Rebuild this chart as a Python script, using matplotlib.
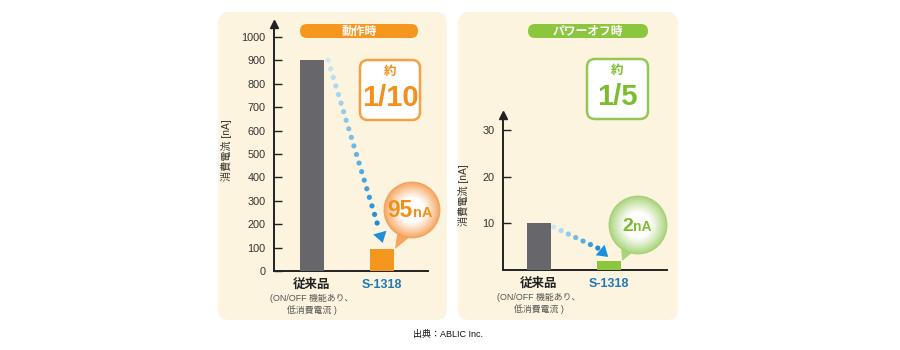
import matplotlib
matplotlib.use('Agg')
import matplotlib.pyplot as plt
from matplotlib.patches import FancyBboxPatch, Circle, Polygon, FancyArrowPatch
import numpy as np

plt.rcParams['font.family'] = ['Liberation Sans', 'Noto Sans CJK JP']

# ---------------- data ----------------
categories = ['従来品', 'S-1318']
sub_label = ['(ON/OFF 機能あり、', '低消費電流 )']
op_values = [900, 95]
off_values = [10, 2]
op_ticks = list(range(0, 1001, 100))
off_ticks = [10, 20, 30]
panel_titles = ['動作時', 'パワーオフ時']
ratio_labels = ['1/10', '1/5']
bubble_nums = ['95', '2']
bubble_unit = 'nA'
approx = '約'
ylabel = '消費電流 [nA]'
source = '出典：ABLIC Inc.'

# ---------------- style ----------------
W, H = 900, 350
CREAM = '#fcf4de'
ORANGE = '#f5961f'
GREEN = '#8cc63e'
GRAY_BAR = '#67666b'
BLUE = '#1f78b8'
AXC = '#222222'

fig = plt.figure(figsize=(9, 3.5), dpi=100)
fig.patch.set_facecolor('white')


def frac(x0, y_top, x1, y_bot):
    return [x0 / W, 1 - y_bot / H, (x1 - x0) / W, (y_bot - y_top) / H]


bg = fig.add_axes([0, 0, 1, 1])
bg.set_xlim(0, W); bg.set_ylim(H, 0); bg.axis('off'); bg.set_zorder(0)
for (x0, y0, w, h) in [(218, 12, 229, 308), (458, 12, 220, 308)]:
    bg.add_patch(FancyBboxPatch((x0, y0), w, h, boxstyle='round,pad=0,rounding_size=11',
                                fc=CREAM, ec='none'))
bg.text(448, 334, source, ha='center', va='center', fontsize=6.5, color='#111')


def setup_axes(rect, values, colors, ylim, xlim, ticks, ylab_xy):
    ax = fig.add_axes(rect)
    ax.set_zorder(2)
    ax.patch.set_alpha(0)
    x = np.arange(len(values))
    ax.bar(x, values, width=0.34, color=colors, zorder=3)
    ax.set_xlim(*xlim)
    ax.set_ylim(*ylim)
    for s in ['top', 'right']:
        ax.spines[s].set_visible(False)
    for s in ['left', 'bottom']:
        ax.spines[s].set_color(AXC)
        ax.spines[s].set_linewidth(1.4)
    ax.set_yticks(ticks)
    ax.tick_params(axis='y', direction='in', length=6, width=1, color=AXC,
                   labelsize=7.8, labelcolor='#333', pad=6)
    ax.set_xticks([])
    ax.plot([0], [1], marker='^', transform=ax.transAxes, clip_on=False,
            color=AXC, ms=6, zorder=5)
    ax.set_ylabel(ylabel, fontsize=7.3, color='#333')
    ax.yaxis.set_label_coords(*ylab_xy)
    # category labels
    for i, lab in enumerate(categories):
        ax.annotate(lab, xy=(i, 0), xytext=(0, -14), textcoords='offset pixels',
                    ha='center', va='center', fontsize=9, fontweight='bold',
                    color=AXC if i == 0 else BLUE, annotation_clip=False)
    ax.annotate(sub_label[0], xy=(0, 0), xytext=(0, -27), textcoords='offset pixels',
                ha='center', va='center', fontsize=6.4, color='#555', annotation_clip=False)
    ax.annotate(sub_label[1], xy=(0, 0), xytext=(0, -39), textcoords='offset pixels',
                ha='center', va='center', fontsize=6.4, color='#555', annotation_clip=False)
    return ax


ax1 = setup_axes(frac(274, 24, 428, 271), op_values, [GRAY_BAR, ORANGE],
                 (0, 1055), (-0.543, 1.657), op_ticks, (-0.27, 0.49))
ax2 = setup_axes(frac(503, 115, 667, 270), off_values, [GRAY_BAR, GREEN],
                 (0, 33.2), (-0.514, 1.829), off_ticks, (-0.21, 0.48))


def dotted_arrow(ax, start, end, tip, n):
    xs = np.linspace(start[0], end[0], n)
    ys = np.linspace(start[1], end[1], n)
    c0 = np.array([0.80, 0.91, 0.97])
    c1 = np.array([0.10, 0.56, 0.86])
    cols = [tuple(c0 + (c1 - c0) * t) for t in np.linspace(0, 1, n)]
    ax.scatter(xs, ys, s=14, c=cols, zorder=4, clip_on=False, linewidths=0)
    ar = FancyArrowPatch(posA=(xs[-1], ys[-1]), posB=tip,
                         arrowstyle='-|>,head_length=0.7,head_width=0.45',
                         mutation_scale=11, color=tuple(c1), lw=0, zorder=4,
                         clip_on=False, shrinkA=0, shrinkB=0)
    ax.add_patch(ar)


dotted_arrow(ax1, (0.23, op_values[0]), (0.93, 205), (1.01, 120), 20)
dotted_arrow(ax2, (0.21, off_values[0] * 0.92), (0.84, 4.7), (0.99, 2.8), 7)

# ---------------- foreground decorations ----------------
fg = fig.add_axes([0, 0, 1, 1])
fg.set_xlim(0, W); fg.set_ylim(H, 0); fg.axis('off'); fg.set_zorder(10)
fg.patch.set_alpha(0)

# title pills
for (x0, w, col, title) in [(300, 118, ORANGE, panel_titles[0]), (528, 120, GREEN, panel_titles[1])]:
    fg.add_patch(FancyBboxPatch((x0, 24), w, 14, boxstyle='round,pad=0,rounding_size=7',
                                fc=col, ec='none'))
    fg.text(x0 + w / 2, 31.5, title, ha='center', va='center', fontsize=8.5,
            fontweight='bold', color='white')

# ratio boxes
TXT_OR = '#f39019'
TXT_GR = '#7cbd2f'
for (x0, y0, w, h, ec, tc, lab) in [(360, 60, 60, 60, '#f5a043', TXT_OR, ratio_labels[0]),
                                     (587, 59, 61, 60, '#92c955', TXT_GR, ratio_labels[1])]:
    fg.add_patch(FancyBboxPatch((x0, y0), w, h, boxstyle='round,pad=0,rounding_size=8',
                                fc='white', ec=ec, lw=1.8))
    fg.text(x0 + w / 2, y0 + 12, approx, ha='center', va='center', fontsize=9,
            fontweight='bold', color=tc)
    fg.text(x0 + w / 2, y0 + 38, lab, ha='center', va='center', fontsize=21,
            fontweight='bold', color=tc)


def bubble(cx, cy, r, edge, tail, tc, num, xsplit, base, nsize, usize):
    edge = np.array(matplotlib.colors.to_rgb(edge))
    white = np.array([1.0, 0.997, 0.99])
    fg.add_patch(Polygon(tail, closed=True, fc=tuple(edge), ec='none'))
    N = 30
    for k in range(N):
        t = k / (N - 1)
        rr = r * (1 - t * 0.98)
        w = min(1.0, (t / 0.55)) ** 0.9
        col = edge * (1 - w) + white * w
        fg.add_patch(Circle((cx, cy), rr, fc=tuple(col), ec='none'))
    fg.add_patch(Circle((cx, cy), r, fc='none', ec=tuple(edge * 0.97), lw=0.6))
    fg.text(xsplit, base, num, ha='right', va='baseline', fontsize=nsize,
            fontweight='bold', color=tc)
    fg.text(xsplit + 0.5, base, bubble_unit, ha='left', va='baseline', fontsize=usize,
            fontweight='bold', color=tc)


bubble(412, 210, 28, '#f6a55e', [(398, 228), (411, 236), (395, 249)], TXT_OR,
       bubble_nums[0], 413, 217, 16.5, 10.5)
bubble(638, 225, 29, '#a9d47a', [(621, 244), (633, 252), (622, 261)], TXT_GR,
       bubble_nums[1], 633, 231, 14, 10)

fig.savefig('out.png', dpi=100, facecolor='white')
